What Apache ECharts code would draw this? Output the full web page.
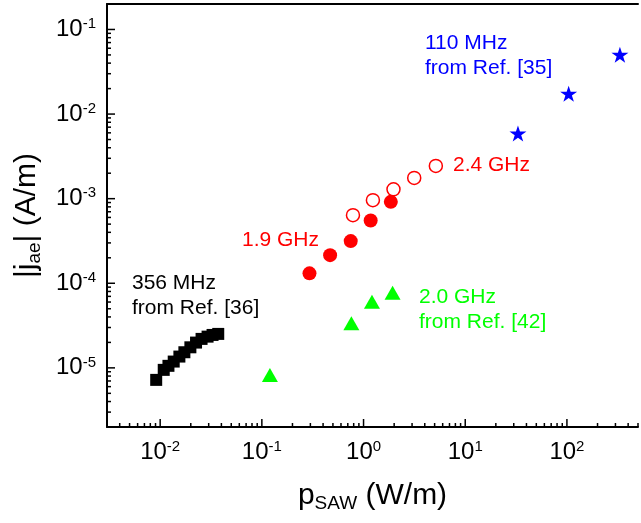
<!DOCTYPE html>
<html>
<head>
<meta charset="utf-8">
<script src="https://cdn.jsdelivr.net/npm/echarts@6/dist/echarts.min.js"></script>
<style>
  html, body { margin: 0; padding: 0; background: #fff; }
  #chart { width: 641px; height: 523px; }
</style>
</head>
<body>
<div id="chart"></div>
<script>
  // axis ranges (W/m and A/m)
  const xMin = 0.003, xMax = 500
  const yMin = 2e-6, yMax = 0.2

  // 356 MHz from Ref. [36]
  const ref36P = [0.00914, 0.01084, 0.01206, 0.01359, 0.01545, 0.0173, 0.01982, 0.02253, 0.02553, 0.02925, 0.03274, 0.03724]
  const ref36J = [7.21e-6, 9.47e-6, 1.057e-5, 1.187e-5, 1.36e-5, 1.53e-5, 1.75e-5, 1.99e-5, 2.20e-5, 2.34e-5, 2.45e-5, 2.52e-5]
  // 1.9 GHz (filled circles)
  const ghz19P = [0.294, 0.469, 0.748, 1.175, 1.855]
  const ghz19J = [1.31e-4, 2.15e-4, 3.15e-4, 5.53e-4, 9.17e-4]
  // 2.4 GHz (open circles)
  const ghz24P = [0.787, 1.236, 1.97, 3.15, 5.14]
  const ghz24J = [6.38e-4, 9.6e-4, 1.29e-3, 1.76e-3, 2.44e-3]
  // 2.0 GHz from Ref. [42]
  const ref42P = [0.12, 0.759, 1.21, 1.93]
  const ref42J = [8.26e-6, 3.37e-5, 6.05e-5, 7.74e-5]
  // 110 MHz from Ref. [35]
  const ref35P = [33, 104, 332]
  const ref35J = [5.9e-3, 0.0174, 0.0503]

  const font = 'Liberation Sans, Arial, sans-serif'
  const star = 'path://M50 0 L61.23 34.55 L97.55 34.55 L68.16 55.9 L79.39 90.45 L50 69.1 L20.61 90.45 L31.84 55.9 L2.45 34.55 L38.77 34.55 Z'

  let zip = (a, b) => a.map((v, i) => [v, b[i]])

  // tick marks on both log axes (major at decades, minor at 2..9)
  let xTicks = [], yTicks = []
  for (let d = -6; d <= 3; d++) {
    for (let k = 1; k <= 9; k++) {
      let v = k * Math.pow(10, d)
      let len = k === 1 ? 8 : 4
      if (v >= xMin * 0.999 && v <= xMax * 1.001) xTicks.push([v, yMin, len])
      if (v >= yMin * 0.999 && v <= yMax * 1.001) yTicks.push([xMin, v, len])
    }
  }

  let powLabel = (v) => {
    let e = Math.round(Math.log10(v))
    if (Math.abs(Math.log10(v) - e) > 1e-6) return ''
    return '{b|10}{s|' + e + '}'
  }
  let labelRich = {
    b: { fontSize: 24, fontFamily: font, color: '#000', lineHeight: 26 },
    s: { fontSize: 15, fontFamily: font, color: '#000', verticalAlign: 'top', lineHeight: 15 }
  }
  let nameRich = {
    a: { fontSize: 30, fontFamily: font, color: '#000', lineHeight: 34 },
    s: { fontSize: 19, fontFamily: font, color: '#000', verticalAlign: 'bottom', lineHeight: 19 }
  }

  let option = {
    animation: false,
    backgroundColor: '#fff',
    grid: { left: 107, right: 0, top: 4, bottom: 96, containLabel: false },
    xAxis: [
      {
        type: 'log', min: xMin, max: xMax,
        name: '{a|p}{s|SAW}{a| (W/m)}',
        nameLocation: 'middle', nameGap: 52,
        nameTextStyle: { rich: nameRich },
        axisLine: { onZero: false, lineStyle: { color: '#000', width: 2 } },
        axisTick: { show: false },
        splitLine: { show: false },
        axisLabel: { margin: 12, formatter: powLabel, rich: labelRich }
      },
      {
        type: 'log', min: xMin, max: xMax, position: 'top',
        axisLine: { onZero: false, lineStyle: { color: '#000', width: 2 } },
        axisTick: { show: false }, axisLabel: { show: false }, splitLine: { show: false }
      }
    ],
    yAxis: {
      type: 'log', min: yMin, max: yMax,
      name: '{a||j}{s|ae}{a|| (A/m)}',
      nameLocation: 'middle', nameGap: 63,
      nameTextStyle: { rich: nameRich },
      axisLine: { onZero: false, lineStyle: { color: '#000', width: 2 } },
      axisTick: { show: false },
      splitLine: { show: false },
      axisLabel: { margin: 11, formatter: powLabel, rich: labelRich }
    },
    graphic: [
      { type: 'text', x: 425, y: 31, style: { text: '110 MHz\nfrom Ref. [35]', fill: '#0000ff', font: '21px ' + font, lineHeight: 25 } },
      { type: 'text', x: 453, y: 153, style: { text: '2.4 GHz', fill: '#ff0000', font: '21px ' + font, lineHeight: 25 } },
      { type: 'text', x: 242, y: 228, style: { text: '1.9 GHz', fill: '#ff0000', font: '21px ' + font, lineHeight: 25 } },
      { type: 'text', x: 132, y: 271, style: { text: '356 MHz\nfrom Ref. [36]', fill: '#000000', font: '21px ' + font, lineHeight: 25 } },
      { type: 'text', x: 419, y: 285, style: { text: '2.0 GHz\nfrom Ref. [42]', fill: '#00ff00', font: '21px ' + font, lineHeight: 25 } }
    ],
    series: [
      {
        type: 'custom', silent: true, data: xTicks, encode: { x: 0, y: 1 },
        renderItem: (params, api) => {
          let p = api.coord([api.value(0), api.value(1)])
          return { type: 'line', shape: { x1: p[0], y1: p[1], x2: p[0], y2: p[1] - api.value(2) }, style: { stroke: '#000', lineWidth: 1.5 } }
        }
      },
      {
        type: 'custom', silent: true, data: yTicks, encode: { x: 0, y: 1 },
        renderItem: (params, api) => {
          let p = api.coord([api.value(0), api.value(1)])
          return { type: 'line', shape: { x1: p[0], y1: p[1], x2: p[0] + api.value(2), y2: p[1] }, style: { stroke: '#000', lineWidth: 1.5 } }
        }
      },
      {
        name: '356 MHz', type: 'scatter', data: zip(ref36P, ref36J),
        symbol: 'rect', symbolSize: 12, itemStyle: { color: '#000', opacity: 1 }
      },
      {
        name: '1.9 GHz', type: 'scatter', data: zip(ghz19P, ghz19J),
        symbol: 'circle', symbolSize: 14, itemStyle: { color: '#ff0000', opacity: 1 }
      },
      {
        name: '2.4 GHz', type: 'scatter', data: zip(ghz24P, ghz24J),
        symbol: 'circle', symbolSize: 13,
        itemStyle: { color: 'rgba(255,255,255,0)', borderColor: '#ff0000', borderWidth: 1.5, opacity: 1 }
      },
      {
        name: '2.0 GHz', type: 'scatter', data: zip(ref42P, ref42J),
        symbol: 'triangle', symbolSize: [16, 14], itemStyle: { color: '#00ff00', opacity: 1 }
      },
      {
        name: '110 MHz', type: 'scatter', data: zip(ref35P, ref35J),
        symbol: star, symbolSize: [17, 16], itemStyle: { color: '#0000ff', opacity: 1 }
      }
    ]
  }

  let chart = echarts.init(document.getElementById('chart'))
  chart.setOption(option)
  window.onresize = () => {
    chart.resize()
  }
</script>
</body>
</html>
